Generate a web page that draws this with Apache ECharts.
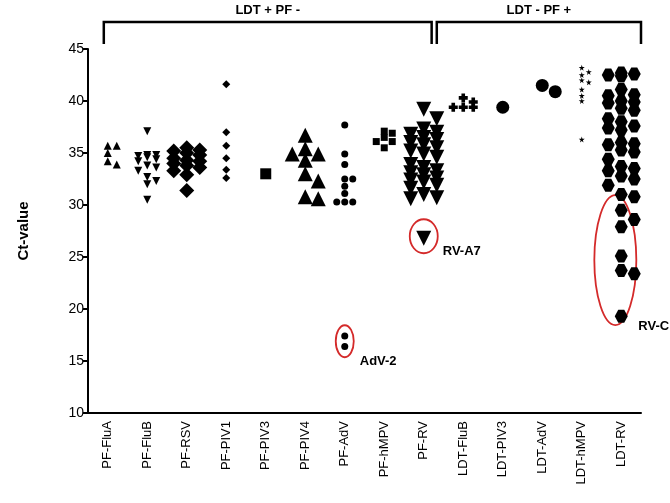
<!DOCTYPE html>
<html><head><meta charset="utf-8">
<script src="https://cdn.jsdelivr.net/npm/echarts@6/dist/echarts.min.js"></script>
<style>html,body{margin:0;padding:0;background:#fff}#c{width:670px;height:503px}</style>
</head><body><div id="c"></div>
<script>
const categories = ['PF-FluA','PF-FluB','PF-RSV','PF-PIV1','PF-PIV3','PF-PIV4','PF-AdV','PF-hMPV','PF-RV','LDT-FluB','LDT-PIV3','LDT-AdV','LDT-hMPV','LDT-RV'];
const yTicks = [10, 15, 20, 25, 30, 35, 40, 45];
const pfFluA = [35.7, 35.7, 35.0, 34.2, 33.9];
const pfFluB = [37.1, 34.8, 34.8, 34.7, 34.6, 34.4, 34.2, 33.8, 33.6, 33.3, 32.7, 32.3, 32.0, 30.5];
const pfRSV = [35.5, 35.3, 35.2, 35.0, 34.8, 34.5, 34.3, 34.2, 34.0, 33.8, 33.6, 33.3, 32.9, 31.4];
const pfPIV1 = [41.6, 37.0, 35.7, 34.5, 33.4, 32.6];
const pfPIV3 = [33.0];
const pfPIV4 = [36.7, 35.4, 34.9, 34.9, 34.3, 33.0, 32.3, 30.8, 30.6];
const pfAdV = [37.7, 34.9, 33.9, 32.5, 32.5, 31.8, 31.1, 30.3, 30.3, 30.3, 17.4, 16.4];
const pfHMPV = [37.1, 36.9, 36.5, 36.1, 36.1, 35.5];
const pfRV = [39.2, 38.3, 37.3, 37.0, 36.8, 36.5, 36.3, 36.0, 35.8, 35.5, 35.2, 34.9, 34.6, 33.9, 33.6, 33.3, 33.1, 32.9, 32.6, 32.4, 32.2, 31.9, 31.6, 31.0, 30.7, 30.6, 26.8];
const ldtFluB = [40.3, 39.9, 39.4, 39.4, 39.4];
const ldtPIV3 = [39.4];
const ldtAdV = [41.5, 40.9];
const ldtHMPV = [43.2, 42.8, 42.5, 42.0, 41.8, 41.1, 40.5, 40.0, 36.3];
const ldtRV = [42.7, 42.6, 42.5, 42.4, 41.1, 40.6, 40.5, 40.0, 39.9, 39.8, 39.3, 39.1, 38.3, 38.0, 37.6, 37.4, 37.2, 36.0, 35.9, 35.8, 35.3, 35.1, 34.4, 33.7, 33.5, 33.3, 32.8, 32.5, 31.9, 31.0, 30.8, 29.5, 28.6, 27.9, 25.1, 23.7, 23.4, 19.3];

const groups = [pfFluA, pfFluB, pfRSV, pfPIV1, pfPIV3, pfPIV4, pfAdV, pfHMPV, pfRV, ldtFluB, ldtPIV3, ldtAdV, ldtHMPV, ldtRV];

const INV_TRI = 'path://M0,0 L10,0 L5,9 Z';
const STAR = 'path://M50,0 L61,35 L98,35 L68,57 L79,91 L50,70 L21,91 L32,57 L2,35 L39,35 Z';
const HEX = 'path://M27,0 L73,0 L100,50 L73,100 L27,100 L0,50 Z';
const CROSS = 'path://M30,0 L70,0 L70,30 L100,30 L100,70 L70,70 L70,100 L30,100 L30,70 L0,70 L0,30 L30,30 Z';
const styles = [
  {symbol:'triangle', size:8},
  {symbol:INV_TRI, size:8},
  {symbol:'diamond', size:15},
  {symbol:'diamond', size:8},
  {symbol:'rect', size:11},
  {symbol:'triangle', size:15},
  {symbol:'circle', size:7},
  {symbol:'rect', size:7},
  {symbol:INV_TRI, size:15},
  {symbol:CROSS, size:9},
  {symbol:'circle', size:13},
  {symbol:'circle', size:13},
  {symbol:STAR, size:6},
  {symbol:HEX, size:13}
];

const G = {left: 88, top: 49, right: 29, bottom: 90};
const W = 670, H = 503;
const gw = W - G.left - G.right, gh = H - G.top - G.bottom;
const pxPerY = gh / 35, pxPerCat = gw / categories.length;

// deterministic beeswarm spread around each category centre
function swarm(vals, size) {
  const placed = [], out = new Array(vals.length);
  const order = vals.map((v, i) => i).sort((a, b) => vals[b] - vals[a]);
  const step = Math.min(size + 1, 13);
  const cands = [0, step, -step];
  order.forEach(i => {
    const y = vals[i] * pxPerY;
    let chosen = null, best = -1, bestC = 0;
    for (const c of cands) {
      let md = Infinity;
      for (const p of placed) {
        const dx = c - p.x, dy = y - p.y;
        md = Math.min(md, Math.sqrt(dx * dx + dy * dy));
      }
      if (md >= size * 0.8) { chosen = c; break; }
      if (md > best) { best = md; bestC = c; }
    }
    if (chosen === null) chosen = bestC;
    placed.push({x: chosen, y});
    out[i] = chosen / pxPerCat;
  });
  return out;
}

const series = groups.map((vals, gi) => {
  const st = styles[gi];
  const off = swarm(vals, st.size);
  return {
    type: 'scatter', xAxisIndex: 1, yAxisIndex: 0,
    symbol: st.symbol, symbolSize: st.size,
    itemStyle: {color: '#000', opacity: 1},
    data: vals.map((v, i) => [gi + off[i], v]),
    silent: true
  };
});

const chart = echarts.init(document.getElementById('c'), null, {renderer: 'canvas'});
chart.setOption({
  animation: false,
  grid: {left: G.left, top: G.top, right: G.right, bottom: G.bottom, containLabel: false},
  xAxis: [
    {type: 'category', data: categories, boundaryGap: true,
     axisLine: {onZero: false, lineStyle: {color: '#000', width: 2}},
     axisTick: {alignWithLabel: true, length: 5, lineStyle: {color: '#000', width: 2}},
     axisLabel: {rotate: 90, color: '#000', fontFamily: 'Liberation Sans', fontSize: 13, margin: 8},
     splitLine: {show: false}},
    {type: 'value', min: -0.5, max: categories.length - 0.5, show: false, splitLine: {show: false}}
  ],
  yAxis: {type: 'value', min: yTicks[0], max: yTicks[yTicks.length - 1], interval: 5,
    name: 'Ct-value', nameLocation: 'middle', nameGap: 57, nameRotate: 90,
    nameTextStyle: {fontFamily: 'Liberation Sans', fontWeight: 'bold', fontSize: 15, color: '#000'},
    axisLine: {show: true, onZero: false, lineStyle: {color: '#000', width: 2}},
    axisTick: {show: true, length: 5, lineStyle: {color: '#000', width: 2}},
    axisLabel: {color: '#000', fontFamily: 'Liberation Sans', fontSize: 14, margin: 4},
    splitLine: {show: false}},
  series
});

function px(x, y) { return chart.convertToPixel({xAxisIndex: 1, yAxisIndex: 0}, [x, y]); }
const red = '#d42a2a';
const a = px(6, 16.9), b = px(8, 26.9), c = px(12.85, 24.7);
const bl = px(-0.1, 45)[0], bm1 = px(8.2, 45)[0], bm2 = px(8.33, 45)[0], br = px(13.5, 45)[0];
const lineTop = 22, lineBot = 44;
const bk = {stroke: '#000', lineWidth: 2.5, fill: null};
const txt = {fontFamily: 'Liberation Sans', fontWeight: 'bold', fontSize: 13, fill: '#000'};
chart.setOption({graphic: [
  {type: 'polyline', shape: {points: [[bl, lineBot], [bl, lineTop], [bm1, lineTop], [bm1, lineBot]]}, style: bk},
  {type: 'polyline', shape: {points: [[bm2, lineBot], [bm2, lineTop], [br, lineTop], [br, lineBot]]}, style: bk},
  {type: 'text', x: (bl + bm1) / 2, y: 10, style: Object.assign({text: 'LDT + PF -', align: 'center', verticalAlign: 'middle'}, txt)},
  {type: 'text', x: (bm2 + br) / 2, y: 10, style: Object.assign({text: 'LDT - PF +', align: 'center', verticalAlign: 'middle'}, txt)},
  {type: 'ellipse', shape: {cx: a[0], cy: a[1], rx: 9, ry: 16}, style: {stroke: red, lineWidth: 1.8, fill: null}},
  {type: 'ellipse', shape: {cx: b[0], cy: b[1] - 1, rx: 14, ry: 17}, style: {stroke: red, lineWidth: 1.8, fill: null}},
  {type: 'ellipse', shape: {cx: c[0], cy: c[1], rx: 21, ry: 65}, style: {stroke: red, lineWidth: 1.8, fill: null}},
  {type: 'text', x: a[0] + 15, y: a[1] + 20, style: Object.assign({text: 'AdV-2', align: 'left', verticalAlign: 'middle'}, txt)},
  {type: 'text', x: b[0] + 19, y: b[1] + 14, style: Object.assign({text: 'RV-A7', align: 'left', verticalAlign: 'middle'}, txt)},
  {type: 'text', x: c[0] + 23, y: c[1] + 66, style: Object.assign({text: 'RV-C', align: 'left', verticalAlign: 'middle'}, txt)}
]});
</script></body></html>
